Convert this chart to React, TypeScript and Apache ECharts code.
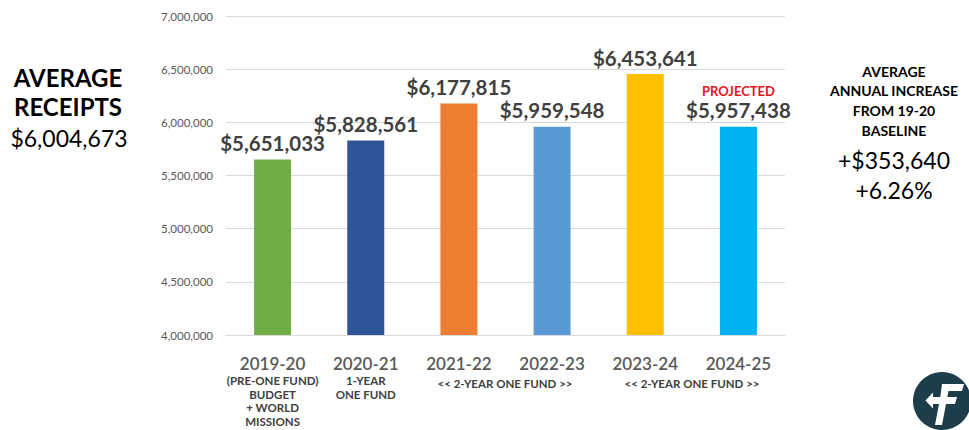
import React, { useEffect, useRef } from "react";
import * as echarts from "echarts";

const categories = ["2019-20", "2020-21", "2021-22", "2022-23", "2023-24", "2024-25"];
const values = [5651033, 5828561, 6177815, 5959548, 6453641, 5957438];
const barColors = ["#70ad47", "#2f5597", "#ed7d31", "#5b9bd5", "#ffc000", "#00b0f0"];
const subLabels = [
  ["(PRE-ONE FUND)", "BUDGET", "+ WORLD", "MISSIONS"],
  ["1-YEAR", "ONE FUND"],
  [],
  [],
  [],
  [],
];
const projectedIndex = 5;
const yTicks = { min: 4000000, max: 7000000, interval: 500000 };
const leftTitle = ["AVERAGE", "RECEIPTS"];
const leftValue = "$6,004,673";
const rightTitle = ["AVERAGE", "ANNUAL INCREASE", "FROM 19-20", "BASELINE"];
const rightValues = ["+$353,640", "+6.26%"];
const spanLabel = "<< 2-YEAR ONE FUND >>";

const FONT = "Lato, 'Open Sans', sans-serif";
const fmtMoney = (v: number) => "$" + v.toLocaleString("en-US");

const logoPath =
  "M942 384 L964 384 L962 391 L948.5 391 L947.3 397 L957 397 L955 404 L946 404 L942 425 L935 425 L939 404 L933 404 L933 408.5 L925.5 400.5 L933 392.5 L933 397 L940.3 397 Z";

export default function App() {
  const ref = useRef<HTMLDivElement>(null);
  useEffect(() => {
    document.body.style.margin = "0";
    if (!ref.current) return;
    try {
      echarts.graphic.registerShape("logo", echarts.graphic.extendPath(logoPath, {}));
    } catch (e) {}
    const chart = echarts.init(ref.current, null, { renderer: "svg" });
    const data = values.map((v, i) => ({
      value: v,
      itemStyle: { color: barColors[i] },
      label:
        i === projectedIndex
          ? {
              formatter: "{p|PROJECTED}\n{v|" + fmtMoney(v) + "}",
              rich: {
                p: { color: "#e8141c", fontSize: 13, fontWeight: "bold", fontFamily: FONT, lineHeight: 15 },
                v: { color: "#404040", fontSize: 20.5, fontWeight: "bold", fontFamily: FONT, lineHeight: 22 },
              },
            }
          : undefined,
    }));
    const option: any = {
      animation: false,
      grid: { left: 226, right: 184, top: 16, bottom: 95, containLabel: false },
      xAxis: {
        type: "category",
        data: categories,
        axisLine: { show: true, lineStyle: { color: "#d9d9d9" } },
        axisTick: { show: false },
        axisLabel: {
          interval: 0,
          margin: 17,
          formatter: (val: string, idx: number) => {
            const subs = subLabels[idx] || [];
            return ["{a|" + val + "}", ...subs.map((s) => "{b|" + s + "}")].join("\n");
          },
          rich: {
            a: { fontSize: 17, color: "#595959", fontFamily: FONT, lineHeight: 22, fontWeight: 600 },
            b: { fontSize: 11.5, color: "#404040", fontFamily: FONT, fontWeight: "bold", lineHeight: 13.5 },
          },
        },
      },
      yAxis: {
        type: "value",
        min: yTicks.min,
        max: yTicks.max,
        interval: yTicks.interval,
        axisLine: { show: false },
        axisTick: { show: false },
        splitLine: { lineStyle: { color: "#d9d9d9" } },
        axisLabel: {
          margin: 13,
          fontSize: 11.5,
          color: "#595959",
          fontFamily: FONT,
          formatter: (v: number) => v.toLocaleString("en-US"),
        },
      },
      series: [
        {
          type: "bar",
          data,
          barWidth: 37,
          label: {
            show: true,
            position: "top",
            distance: 6,
            color: "#404040",
            fontSize: 20.5,
            fontWeight: "bold",
            fontFamily: FONT,
            formatter: (p: any) => fmtMoney(p.value),
          },
        },
      ],
      graphic: [
        { type: "text", x: 68, y: 77, style: { text: leftTitle[0], fontSize: 24, fontWeight: "bold", fontFamily: FONT, fill: "#000", align: "center", verticalAlign: "middle" } },
        { type: "text", x: 68, y: 106, style: { text: leftTitle[1], fontSize: 24, fontWeight: "bold", fontFamily: FONT, fill: "#000", align: "center", verticalAlign: "middle" } },
        { type: "text", x: 69, y: 138, style: { text: leftValue, fontSize: 23, fontFamily: FONT, fill: "#000", align: "center", verticalAlign: "middle" } },
        ...rightTitle.map((t, i) => ({
          type: "text",
          x: 894,
          y: 71 + i * 19.7,
          style: { text: t, fontSize: 14, fontWeight: "bold", fontFamily: FONT, fill: "#000", align: "center", verticalAlign: "middle" },
        })),
        ...rightValues.map((t, i) => ({
          type: "text",
          x: 894,
          y: 160 + i * 30,
          style: { text: t, fontSize: 23, fontFamily: FONT, fill: "#000", align: "center", verticalAlign: "middle" },
        })),
        { type: "text", x: 505, y: 383, style: { text: spanLabel, fontSize: 11.5, fontWeight: "bold", fontFamily: FONT, fill: "#404040", align: "center", verticalAlign: "middle" } },
        { type: "text", x: 692, y: 383, style: { text: spanLabel, fontSize: 11.5, fontWeight: "bold", fontFamily: FONT, fill: "#404040", align: "center", verticalAlign: "middle" } },
        { type: "circle", shape: { cx: 942, cy: 401, r: 29 }, style: { fill: "#1e3d4a" } },
        { type: "logo", x: 0, y: 0, style: { fill: "#ffffff" } },
      ],
    };
    chart.setOption(option);
    return () => chart.dispose();
  }, []);
  return <div ref={ref} style={{ width: 969, height: 430 }} />;
}
